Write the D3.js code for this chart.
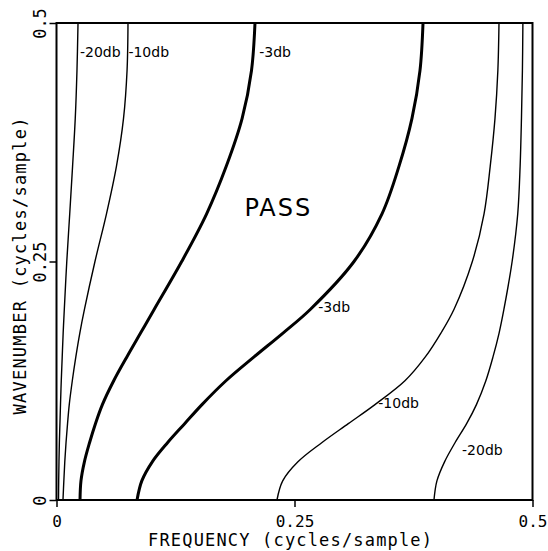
<!DOCTYPE html>
<html>
<head>
<meta charset="utf-8">
<script src="https://cdn.jsdelivr.net/npm/d3@7"></script>
<style>
  body { margin: 0; background: white; }
  svg { display: block; }
</style>
</head>
<body>
<div id="container"></div>
<script>
let w = 548;
let h = 551;

// DATA
// wavenumber grid shared by all contours
let wavenumbers = [0, 0.02, 0.04, 0.06, 0.08, 0.1, 0.125, 0.15, 0.175, 0.2, 0.25, 0.3, 0.35, 0.4, 0.45, 0.5];
// frequency of each contour at those wavenumbers
let low20 = [0.0021, 0.0023, 0.0026, 0.0030, 0.0036, 0.0042, 0.0050, 0.0060, 0.0070, 0.0082, 0.0108, 0.0139, 0.0169, 0.0197, 0.0215, 0.0226];
let low10 = [0.0068, 0.0077, 0.0087, 0.0100, 0.0116, 0.0134, 0.0166, 0.0203, 0.0245, 0.0294, 0.0404, 0.0525, 0.0630, 0.0704, 0.0741, 0.0751];
let low3 = [0.0247, 0.0257, 0.0293, 0.0347, 0.0409, 0.0482, 0.0601, 0.0739, 0.0883, 0.1027, 0.1315, 0.1577, 0.1784, 0.1950, 0.2048, 0.2085];
let high3 = [0.0846, 0.0896, 0.1006, 0.1166, 0.1346, 0.1528, 0.1780, 0.2075, 0.2379, 0.2668, 0.3125, 0.3419, 0.3598, 0.3734, 0.3818, 0.3850];
let high10 = [0.2316, 0.2376, 0.2536, 0.2786, 0.3065, 0.3345, 0.3660, 0.3874, 0.4038, 0.4176, 0.4368, 0.4491, 0.4556, 0.4606, 0.4636, 0.4648];
let high20 = [0.3965, 0.3996, 0.4076, 0.4186, 0.4308, 0.4411, 0.4510, 0.4585, 0.4649, 0.4700, 0.4786, 0.4845, 0.4870, 0.4884, 0.4894, 0.4899];

let contourNames = ["low20", "low10", "low3", "high3", "high10", "high20"];
let contourFreqs = [low20, low10, low3, high3, high10, high20];
let contourHeavy = [false, false, true, true, false, false];

// contour labels: text, frequency, wavenumber
let labelTexts = ["-20db", "-10db", "-3db", "-3db", "-10db", "-20db"];
let labelFreq = [0.0247, 0.0755, 0.213, 0.275, 0.338, 0.426];
let labelWave = [0.470, 0.470, 0.470, 0.202, 0.102, 0.052];

let tickValues = [0, 0.25, 0.5];
let tickLabels = ["0", "0.25", "0.5"];

// SVG
let viz = d3.select("#container").append("svg")
    .attr("width", w)
    .attr("height", h)
    .style("background-color", "white");

let x = d3.scaleLinear().domain([0, 0.5]).range([56.5, 532.5]);
let y = d3.scaleLinear().domain([0, 0.5]).range([500, 23]);

// contours
let lineMaker = d3.line()
    .x(d => x(d[0]))
    .y(d => y(d[1]))
    .curve(d3.curveCatmullRom);

contourFreqs.forEach((freqs, i) => {
    let pts = freqs.map((f, j) => [f, wavenumbers[j]]);
    viz.append("path")
        .attr("class", "contour " + contourNames[i])
        .attr("d", lineMaker(pts))
        .attr("fill", "none")
        .attr("stroke", "black")
        .attr("stroke-width", contourHeavy[i] ? 3 : 1.4);
});

// frame
viz.append("rect")
    .attr("x", x(0))
    .attr("y", y(0.5))
    .attr("width", x(0.5) - x(0))
    .attr("height", y(0) - y(0.5))
    .attr("fill", "none")
    .attr("stroke", "black")
    .attr("stroke-width", 2);

// axes
let xAxis = viz.append("g")
    .attr("transform", "translate(0," + y(0) + ")")
    .call(d3.axisBottom(x).tickValues(tickValues).tickSize(7).tickSizeOuter(0)
        .tickFormat((d, i) => tickLabels[i]));
xAxis.select(".domain").remove();
xAxis.selectAll("line").attr("stroke-width", 1.5);
xAxis.selectAll("text")
    .attr("y", 27)
    .attr("dy", 0)
    .style("font-family", "DejaVu Sans Mono")
    .style("font-size", "16px")
    .attr("fill", "black");

let yAxis = viz.append("g")
    .attr("transform", "translate(" + x(0) + ",0)")
    .call(d3.axisLeft(y).tickValues(tickValues).tickSize(7).tickSizeOuter(0)
        .tickFormat((d, i) => tickLabels[i]));
yAxis.select(".domain").remove();
yAxis.selectAll("line").attr("stroke-width", 1.5);
yAxis.selectAll("text")
    .attr("transform", "rotate(-90)")
    .attr("x", 0)
    .attr("y", -17)
    .attr("dy", "0.36em")
    .attr("text-anchor", "middle")
    .style("font-family", "DejaVu Sans Mono")
    .style("font-size", "17px")
    .attr("fill", "black");

// axis titles
viz.append("text")
    .attr("x", 290)
    .attr("y", 546)
    .attr("text-anchor", "middle")
    .attr("textLength", 284)
    .attr("lengthAdjust", "spacing")
    .style("font-family", "DejaVu Sans Mono")
    .style("font-size", "17px")
    .text("FREQUENCY (cycles/sample)");

viz.append("text")
    .attr("transform", "translate(26,266) rotate(-90)")
    .attr("text-anchor", "middle")
    .attr("textLength", 297)
    .attr("lengthAdjust", "spacing")
    .style("font-family", "DejaVu Sans Mono")
    .style("font-size", "17px")
    .text("WAVENUMBER (cycles/sample)");

// contour labels
viz.selectAll(".clabel").data(labelTexts).enter()
    .append("text")
        .attr("class", "clabel")
        .attr("x", (d, i) => x(labelFreq[i]))
        .attr("y", (d, i) => y(labelWave[i]))
        .attr("dy", "0.35em")
        .style("font-family", "DejaVu Sans")
        .style("font-size", "14px")
        .text(d => d);

viz.append("text")
    .attr("x", x(0.233))
    .attr("y", y(0.307))
    .attr("dy", "0.36em")
    .attr("text-anchor", "middle")
    .style("font-family", "DejaVu Sans")
    .style("font-size", "24px")
    .style("letter-spacing", "2px")
    .text("PASS");
</script>
</body>
</html>
